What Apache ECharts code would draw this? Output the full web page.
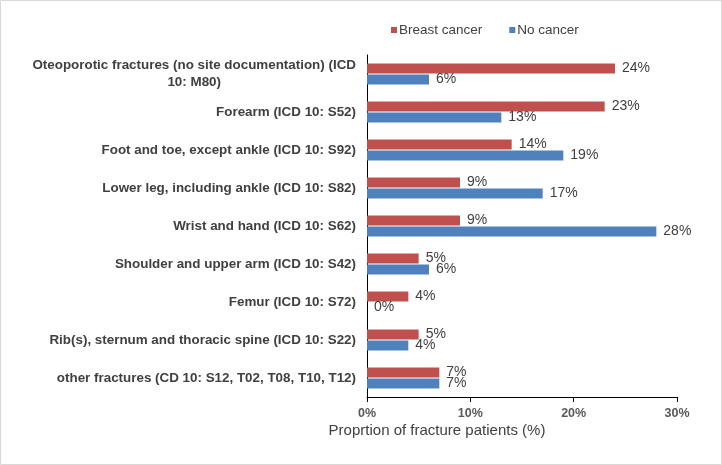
<!DOCTYPE html>
<html><head><meta charset="utf-8">
<script src="https://cdn.jsdelivr.net/npm/echarts@6/dist/echarts.min.js"></script>
<style>html,body{margin:0;padding:0;background:#fff}#c{width:722px;height:465px}</style>
</head><body><div id="c"></div>
<script>
const categories = [
  "Oteoporotic fractures (no site documentation) (ICD\n10: M80)",
  "Forearm (ICD 10: S52)",
  "Foot and toe, except ankle (ICD 10: S92)",
  "Lower leg, including ankle (ICD 10: S82)",
  "Wrist and hand (ICD 10: S62)",
  "Shoulder and upper arm (ICD 10: S42)",
  "Femur (ICD 10: S72)",
  "Rib(s), sternum and thoracic spine (ICD 10: S22)",
  "other fractures (CD 10: S12, T02, T08, T10, T12)"
];
const breastCancer = [24, 23, 14, 9, 9, 5, 4, 5, 7];
const noCancer = [6, 13, 19, 17, 28, 6, 0, 4, 7];
const xTicks = [0, 10, 20, 30];
const xTitle = 'Proprtion of fracture patients (%)';

const chart = echarts.init(document.getElementById('c'), null, {renderer: 'canvas'});
const sans = '"Liberation Sans", Arial, sans-serif';
chart.setOption({
  animation: false,
  backgroundColor: '#fff',
  graphic: [
    {type: 'rect', shape: {x: 0.5, y: 0.5, width: 721, height: 464}, style: {fill: 'none', stroke: '#d9d9d9', lineWidth: 1}, silent: true},
    {type: 'text', x: 437, y: 431, silent: true,
     style: {text: xTitle, align: 'center', verticalAlign: 'middle', fontSize: 15, fontFamily: sans, fill: '#404040'}}
  ],
  legend: {
    top: 18, left: 386,
    itemWidth: 6, itemHeight: 6, itemGap: 27,
    icon: 'rect',
    textStyle: {fontFamily: sans, fontSize: 13.5, color: '#404040', padding: [0, 0, 0, -3]},
    data: ['Breast cancer', 'No cancer']
  },
  grid: {left: 367, right: 45, top: 55, bottom: 68, containLabel: false},
  xAxis: {
    type: 'value', min: 0, max: 30, interval: 10,
    axisLine: {show: true, lineStyle: {color: '#000', width: 1}},
    axisTick: {show: true, length: 5, lineStyle: {color: '#000'}},
    splitLine: {show: false},
    axisLabel: {formatter: v => xTicks.includes(v) ? v + '%' : '', fontFamily: sans, fontSize: 12.5, fontWeight: 'bold', color: '#595959', margin: 10}
  },
  yAxis: {
    type: 'category', data: categories, inverse: true,
    axisLine: {show: true, lineStyle: {color: '#000', width: 1}},
    axisTick: {show: false},
    axisLabel: {
      fontFamily: sans, fontSize: 13.4, fontWeight: 'bold', color: '#404040', margin: 11,
      formatter: v => v.split('\n').map(s => '{c|' + s + '}').join('\n'),
      rich: {c: {align: 'center', fontFamily: sans, fontSize: 13.4, fontWeight: 'bold', color: '#404040', lineHeight: 17}}
    }
  },
  series: [
    {name: 'Breast cancer', type: 'bar', data: breastCancer, barWidth: 10, barGap: '10%',
     itemStyle: {color: '#C0504D'},
     label: {show: true, position: 'right', distance: 7, formatter: p => p.value + '%', fontFamily: sans, fontSize: 14, color: '#404040'}},
    {name: 'No cancer', type: 'bar', data: noCancer, barWidth: 10, barGap: '10%',
     itemStyle: {color: '#4F81BD'},
     label: {show: true, position: 'right', distance: 7, formatter: p => p.value + '%', fontFamily: sans, fontSize: 14, color: '#404040'}}
  ]
});
</script></body></html>
